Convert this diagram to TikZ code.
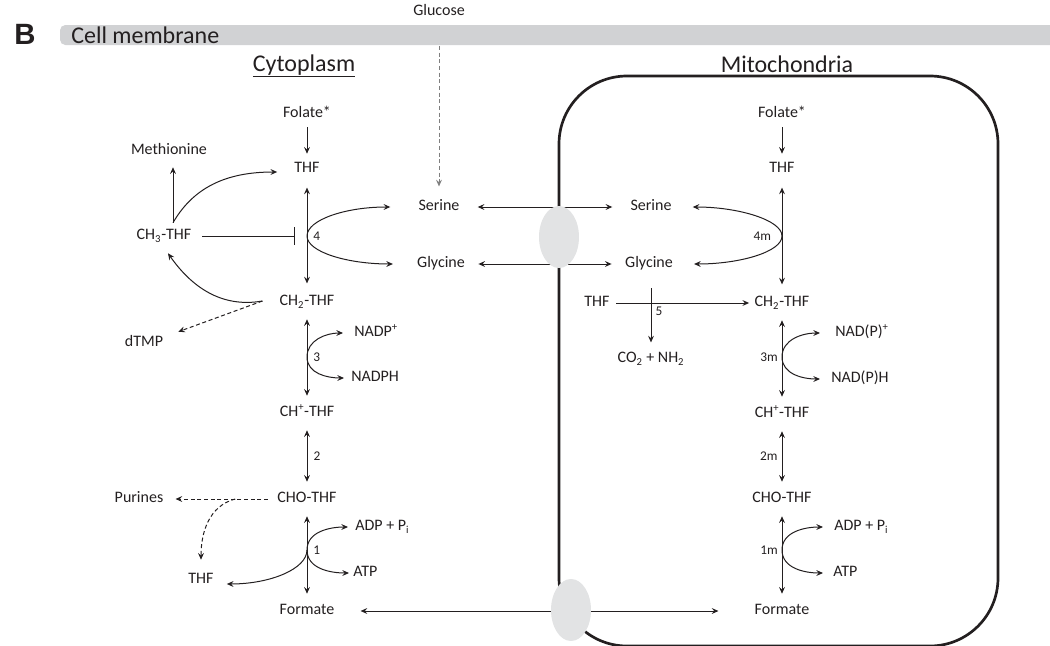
\documentclass[tikz,border=0pt]{standalone}
\usepackage{fontspec}
\setmainfont{Carlito}
\newfontfamily\panelfont{Liberation Sans}
\usetikzlibrary{arrows.meta,positioning,calc,shapes.geometric}
\definecolor{ink}{HTML}{231F20}
\definecolor{membrane}{HTML}{D1D2D4}
\definecolor{poregray}{HTML}{E2E3E4}
\definecolor{glucline}{HTML}{7F7F7F}
\tikzset{>={Stealth[length=5pt,width=4.4pt,inset=1.8pt]}, line/.style={line width=0.75pt, draw=ink},
mol/.style={font=\fontsize{12}{14}\selectfont, text=ink, inner sep=0pt, text height=8pt, text depth=2.5pt},
head/.style={font=\fontsize{18}{22}\selectfont, text=ink, inner sep=0pt},
num/.style={font=\fontsize{10}{12}\selectfont, text=ink, inner sep=0pt},
flux/.style={->, line, shorten <=4.5pt, shorten >=6pt},
rev/.style={<->, line, shorten <=7.5pt, shorten >=7.5pt},
side/.style={->, line},
dflux/.style={->, line, dash pattern=on 3pt off 2pt},
inhib/.style={-{Bar[width=13pt]}, line},
pore/.style={ellipse, fill=poregray, minimum width=30pt, minimum height=46.5pt, inner sep=0pt}}

\begin{document}
\begin{tikzpicture}[x=0.75pt, y=0.75pt]
\useasboundingbox (0,0) rectangle (1050,-646);

% membrane and mitochondrion
\fill[membrane, rounded corners=4pt] (60,-25) rectangle (1080,-45);
\node[font=\panelfont\bfseries\fontsize{22}{24}\selectfont, text=ink] (panel) at (25,-34) {B};
\node[head, anchor=west] (memb) at (71,-35) {Cell membrane};
\draw[ink, line width=2pt, rounded corners=51pt] (559,-76) rectangle (998,-646);
\node[head, anchor=base] (cyto) at (304,-71) {\underline{Cytoplasm}};
\node[head, anchor=base] (mito) at (787,-72) {Mitochondria};

\node[mol] (glu) at (439,-12) {Glucose};

% cytoplasm
\node[mol] (folL) at (307,-114) {Folate*};
\node[mol] (thfL) at (307,-169) {THF};
\node[mol] (metL) at (169,-151) {Methionine};
\node[mol] (ch3L) at (164,-236) {CH\textsubscript{3}-THF};
\node[mol] (serL) at (439,-207) {Serine};
\node[mol] (glyL) at (441,-264) {Glycine};
\node[mol] (ch2L) at (307,-302) {CH\textsubscript{2}-THF};
\node[mol] (dtmp) at (144,-343) {dTMP};
\node[mol, anchor=west] (nadpL) at (354,-333) {NADP\textsuperscript{+}};
\node[mol, anchor=west] (nadphL) at (351,-378) {NADPH};
\node[mol] (chpL) at (307,-413) {CH\textsuperscript{+}-THF};
\node[mol] (choL) at (307,-499) {CHO-THF};
\node[mol] (pur) at (139,-499) {Purines};
\node[mol] (thfP) at (201,-580) {THF};
\node[mol, anchor=west] (adpL) at (355,-527) {ADP + P\textsubscript{i}};
\node[mol, anchor=west] (atpL) at (353,-573) {ATP};
\node[mol] (forL) at (307,-611) {Formate};

% mitochondria
\node[mol] (folR) at (782,-114) {Folate*};
\node[mol] (thfR) at (782,-169) {THF};
\node[mol] (serR) at (651,-207) {Serine};
\node[mol] (glyR) at (649,-264) {Glycine};
\node[mol] (thfM) at (597,-303) {THF};
\node[mol] (ch2R) at (782,-303) {CH\textsubscript{2}-THF};
\node[mol] (co2) at (651,-359) {CO\textsubscript{2} + NH\textsubscript{2}};
\node[mol, anchor=west] (nadpR) at (835,-333) {NAD(P)\textsuperscript{+}};
\node[mol, anchor=west] (nadphR) at (831,-379) {NAD(P)H};
\node[mol] (chpR) at (782,-414) {CH\textsuperscript{+}-THF};
\node[mol] (choR) at (782,-499) {CHO-THF};
\node[mol, anchor=west] (adpR) at (834,-527) {ADP + P\textsubscript{i}};
\node[mol, anchor=west] (atpR) at (833,-573) {ATP};
\node[mol] (forR) at (782,-611) {Formate};

% glucose uptake and transport
\draw[->, dash pattern=on 3pt off 2pt, glucline, line width=0.75pt, shorten <=20pt, shorten >=10pt] (glu) -- (serL);
\draw[rev, shorten <=13.5pt, shorten >=13.5pt] (serL) -- (serR);
\draw[rev, shorten <=10pt, shorten >=10pt] (glyL) -- (glyR);
\draw[rev, shorten <=19.5pt, shorten >=27pt] (forL) -- (forR);

% cytoplasmic cycle
\draw[flux] (folL) -- (thfL);
\draw[rev, shorten <=8.5pt, shorten >=8.5pt] (thfL) -- (ch2L);
\draw[rev] (ch2L) -- (chpL);
\draw[rev] (chpL) -- node[num, right=4.5pt] {2} (choL);
\draw[rev] (choL) -- (forL);

\coordinate (r4) at (307,-236);
\draw[side] (r4) to[out=90,in=180,out distance=12pt,in distance=34pt] ($(serL.west)+(-28,0)$);
\draw[side] (r4) to[out=-90,in=180,out distance=12pt,in distance=34pt] ($(glyL.west)+(-24,0)$);
\node[num, right=4.5pt of r4] {4};
\draw[inhib, shorten <=8pt] (ch3L) -- ($(r4)+(-12,0)$);

\coordinate (mbr) at ($(ch3L.north)+(9,6)$);
\draw[side, shorten >=6.75pt] (mbr) -- (mbr |- metL.south);
\draw[side] (mbr) to[out=60,in=180] ($(thfL.west)+(-17,-3)$);

\coordinate (pbr) at ($(ch2L.west)+(-17,1)$);
\draw[side] (pbr) to[out=190,in=-55] ($(ch3L.south)+(4,-10)$);
\draw[dflux] (pbr) -- ($(dtmp.north east)+(15,4)$);

\coordinate (r3) at (307,-357);
\draw[side] (r3) to[out=90,in=180] ($(nadpL.west)+(-11,0)$);
\draw[side] (r3) to[out=-90,in=180] ($(nadphL.west)+(-7,0)$);
\node[num, right=4.5pt of r3] {3};

\coordinate (r1) at (307,-550);
\draw[side] (r1) to[out=90,in=180] ($(adpL.west)+(-7,0)$);
\draw[side] (r1) to[out=-90,in=180] ($(atpL.west)+(-4,0)$);
\draw[side] (r1) to[out=-90,in=0,out distance=14pt,in distance=33pt] ($(thfP.east)+(13,-4)$);
\node[num, right=4.5pt of r1] {1};

\draw[dflux, shorten <=7pt, shorten >=9pt] (choL) -- (pur);
\coordinate (dbr) at ($(choL.west)+(-42,0)$);
\draw[dflux] (dbr) to[out=195,in=90] ($(thfP.north)+(0,13)$);

% mitochondrial cycle
\draw[flux] (folR) -- (thfR);
\draw[rev, shorten <=8.5pt, shorten >=8.5pt] (thfR) -- (ch2R);
\draw[rev] (ch2R) -- (chpR);
\draw[rev] (chpR) -- node[num, left=3pt] {2m} (choR);
\draw[rev] (choR) -- (forR);

\coordinate (r4m) at (782,-236);
\draw[side] (r4m) to[out=90,in=0,out distance=12pt,in distance=34pt] ($(serR.east)+(21,0)$);
\draw[side] (r4m) to[out=-90,in=0,out distance=12pt,in distance=34pt] ($(glyR.east)+(21,0)$);
\node[num, left=8pt of r4m] {4m};

\draw[side, shorten <=5pt, shorten >=4pt] (thfM) -- (ch2R);
\coordinate (r5) at (651,-288);
\draw[side, shorten >=7pt] (r5) -- (r5 |- co2.north);
\node[num] (n5) at (659,-311) {5};

\coordinate (r3m) at (782,-357);
\draw[side] (r3m) to[out=90,in=180] ($(nadpR.west)+(-15,0)$);
\draw[side] (r3m) to[out=-90,in=180] ($(nadphR.west)+(-11,0)$);
\node[num, left=3pt of r3m] {3m};

\coordinate (r1m) at (782,-550);
\draw[side] (r1m) to[out=90,in=180] ($(adpR.west)+(-11,0)$);
\draw[side] (r1m) to[out=-90,in=180] ($(atpR.west)+(-10,0)$);
\node[num, left=3pt of r1m] {1m};

% transporters
\node[pore] (poreS) at (559,-237) {};
\node[pore] (poreF) at (571,-610) {};
\end{tikzpicture}
\end{document}
